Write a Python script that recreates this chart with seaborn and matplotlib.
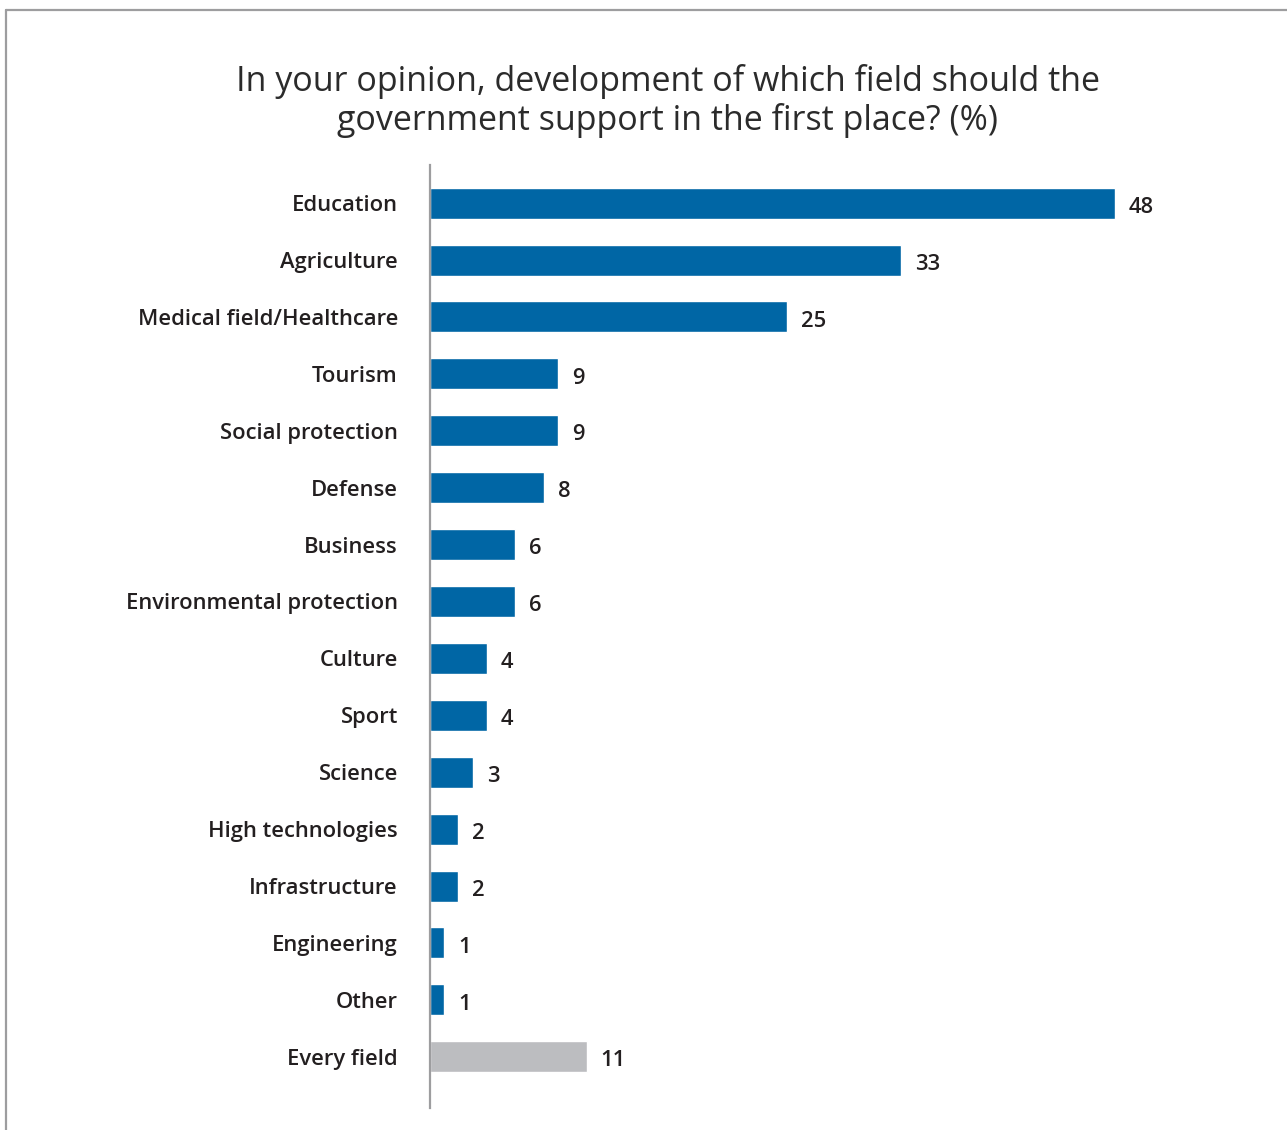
import matplotlib
matplotlib.use("Agg")
import matplotlib.pyplot as plt
from matplotlib.lines import Line2D
import seaborn as sns
import pandas as pd

categories = [
    "Education", "Agriculture", "Medical field/Healthcare", "Tourism",
    "Social protection", "Defense", "Business", "Environmental protection",
    "Culture", "Sport", "Science", "High technologies", "Infrastructure",
    "Engineering", "Other", "Every field",
]
values = [48, 33, 25, 9, 9, 8, 6, 6, 4, 4, 3, 2, 2, 1, 1, 11]
groups = ["field"] * 15 + ["all"]

title = ("In your opinion, development of which field should the\n"
         "government support in the first place? (%)")

BLUE = "#0066a5"
GREY = "#bcbdc0"
TEXT = "#231f20"

sns.set_theme(style="white")
plt.rcParams["font.family"] = ["Open Sans", "DejaVu Sans"]

df = pd.DataFrame({"category": categories, "value": values, "group": groups})

fig = plt.figure(figsize=(12.87, 11.30), dpi=100)
ax = fig.add_axes([0.334, 0.0195, 0.60, 0.8345])

sns.barplot(data=df, x="value", y="category", hue="group",
            palette={"field": BLUE, "all": GREY}, width=0.545,
            dodge=False, legend=False, ax=ax, saturation=1)

ax.set_xlim(0, 54.1)
ax.set_ylim(len(categories) - 0.1, -0.67)
ax.set_xlabel("")
ax.set_ylabel("")
ax.set_xticks([])
for side in ("top", "right", "bottom"):
    ax.spines[side].set_visible(False)
ax.spines["left"].set_color("#9d9d9f")
ax.spines["left"].set_linewidth(1.6)
ax.tick_params(axis="y", length=0, pad=23)
for lbl in ax.get_yticklabels():
    lbl.set_fontsize(15.8)
    lbl.set_fontweight("semibold")
    lbl.set_color(TEXT)

for i, v in enumerate(values):
    ax.annotate(f"{v}", xy=(v, i), xytext=(10, -3), textcoords="offset points",
                ha="left", va="center", fontsize=15.8, fontweight="semibold",
                color=TEXT)

fig.text(0.519, 0.911, title, ha="center", va="center", fontsize=24.5,
         fontweight="normal", color="#2b2b2b", linespacing=1.15)

# frame around the chart panel
fig.add_artist(Line2D([0.0047, 1.0], [0.991, 0.991], transform=fig.transFigure,
                      color="#9d9d9f", linewidth=1.6))
fig.add_artist(Line2D([0.0047, 0.0047], [0.0, 0.991], transform=fig.transFigure,
                      color="#9d9d9f", linewidth=1.6))

fig.savefig("out.png", dpi=100, facecolor="white")
